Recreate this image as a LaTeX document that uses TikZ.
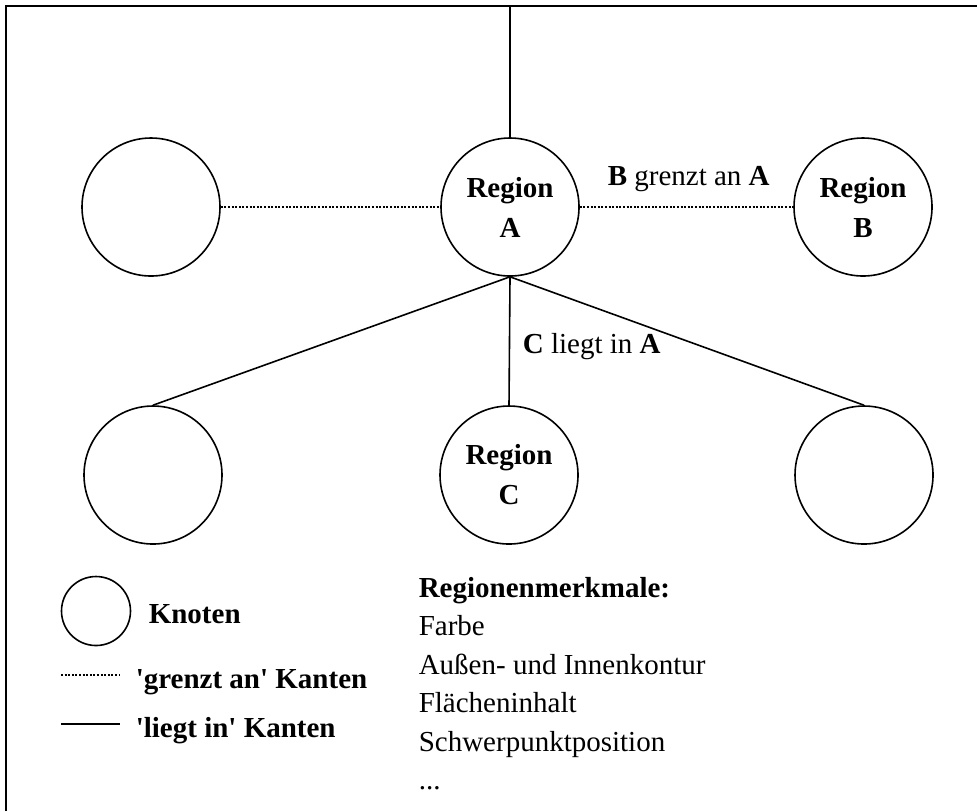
\documentclass[tikz,border=0pt]{standalone}
\usepackage{fontspec}
\setmainfont{Liberation Serif}
\usetikzlibrary{positioning, calc}
\newcommand{\txtsize}{\fontsize{14.5}{20}\selectfont}

\begin{document}
\begin{tikzpicture}[x=0.5pt, y=-0.5pt, line width=0.8pt,
    every node/.style={font=\txtsize, inner sep=0pt},
    region/.style={circle, draw, line width=0.8pt, minimum size=69pt,
                   align=center, font=\txtsize\bfseries},
    grenzt/.style={line width=1.2pt, dash pattern=on 1pt off 0.8pt}]

    % --- CANVAS & FRAME ---
    \useasboundingbox (0,0) rectangle (977,811);
    \draw (6,811) -- (6,6) -- (977,6);

    % --- TOP ROW ---
    \node[region] (L) at (151,207) {};
    \node[region] (A) at (510,207) {Region\\A};
    \node[region] (B) at (863,207) {Region\\B};

    % --- BOTTOM ROW ---
    \node[region] (BL) at (153,475) {};
    \node[region] (C) at (509,475) {Region\\C};
    \node[region] (BR) at (864,475) {};

    % --- EDGES ---
    \coordinate (top) at (510,6);
    \draw (top) -- (A);
    \draw[grenzt] (L) -- (A);
    \draw[grenzt] (A) -- (B);
    \draw (A.south) -- (BL.north);
    \draw (A.south) -- (C.north);
    \draw (A.south) -- (BR.north);

    % --- EDGE LABELS ---
    \node[anchor=base west] (lblB) at (607,185) {\textbf{B} grenzt an \textbf{A}};
    \node[anchor=base west] (lblC) at (522,353) {\textbf{C} liegt in \textbf{A}};

    % --- LEGEND ---
    \node[circle, draw, minimum size=34.5pt] (leg) at (96,611) {};
    \node[anchor=base west, font=\txtsize\bfseries] (knoten) at (148,623) {Knoten};
    \coordinate (gl) at (61,675);
    \coordinate (gr) at (119,675);
    \draw[grenzt] (gl) -- (gr);
    \node[anchor=base west, font=\txtsize\bfseries] (grenztlbl) at (135,688)
        {\textquotesingle grenzt an\textquotesingle{} Kanten};
    \coordinate (ll) at (61,724);
    \coordinate (lr) at (120,724);
    \draw (ll) -- (lr);
    \node[anchor=base west, font=\txtsize\bfseries] (liegtlbl) at (135,737)
        {\textquotesingle liegt in\textquotesingle{} Kanten};

    % --- REGION FEATURES ---
    \node[anchor=base west, font=\txtsize\bfseries] (merk) at (418,597) {Regionenmerkmale:};
    \node[anchor=base west] (m1) at (418,635.5) {Farbe};
    \node[anchor=base west] (m2) at (418,674) {Außen- und Innenkontur};
    \node[anchor=base west] (m3) at (418,712.5) {Flächeninhalt};
    \node[anchor=base west] (m4) at (418,751) {Schwerpunktposition};
    \node[anchor=base west] (m5) at (418,789.5) {...};

\end{tikzpicture}
\end{document}
